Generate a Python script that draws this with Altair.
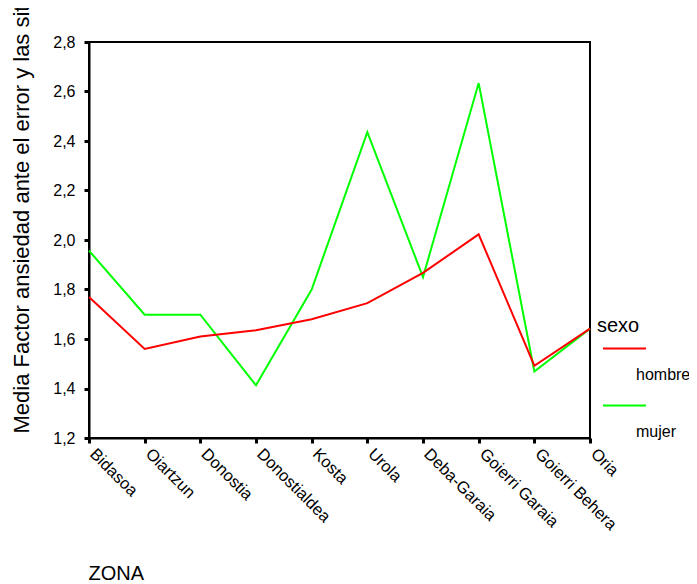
import altair as alt
import pandas as pd

zonas = ["Bidasoa", "Oiartzun", "Donostia", "Donostialdea", "Kosta", "Urola",
         "Deba-Garaia", "Goierri Garaia", "Goierri Behera", "Oria"]
hombre = [1.77, 1.56, 1.61, 1.635, 1.68, 1.745, 1.867, 2.023, 1.492, 1.642]
mujer = [1.957, 1.698, 1.698, 1.413, 1.80, 2.436, 1.85, 2.634, 1.469, 1.642]
sexos = ["hombre", "mujer"]
colores = ["#ff0000", "#00ff00"]
y_ticks = [1.2, 1.4, 1.6, 1.8, 2.0, 2.2, 2.4, 2.6, 2.8]

rows = []
for z, v in zip(zonas, mujer):
    rows.append({"ZONA": z, "sexo": "mujer", "valor": v})
for z, v in zip(zonas, hombre):
    rows.append({"ZONA": z, "sexo": "hombre", "valor": v})
df = pd.DataFrame(rows)

FONT = "Liberation Sans"

chart = alt.Chart(df).mark_line(strokeWidth=2).encode(
    x=alt.X("ZONA:N", sort=zonas,
            scale=alt.Scale(type="point", padding=0),
            axis=alt.Axis(title="ZONA", labelAngle=45, labelAlign="left",
                          labelBaseline="middle", labelPadding=8, labelOffset=3,
                          labelFontSize=16.5,
                          titleFontSize=20, titleFontWeight="normal",
                          titleAlign="left", titleX=-1, titleY=141,
                          titleBaseline="alphabetic")),
    y=alt.Y("valor:Q", scale=alt.Scale(domain=[1.2, 2.8], nice=False, zero=False),
            axis=alt.Axis(title="Media  Factor ansiedad ante el error y las situaciones",
                          values=y_ticks, format=".1f",
                          labelExpr="replace(datum.label, '.', ',')",
                          labelFontSize=16, labelPadding=9,
                          titleFontSize=22, titleFontWeight="normal",
                          titleAngle=270, titleAlign="left",
                          titleBaseline="alphabetic", titleX=-61, titleY=391)),
    color=alt.Color("sexo:N", scale=alt.Scale(domain=sexos, range=colores),
                    legend=alt.Legend(title="sexo", orient="none", legendX=508,
                                      legendY=274, symbolType="stroke",
                                      symbolStrokeWidth=2, symbolSize=1849,
                                      symbolOffset=5, labelOffset={"expr": "-11"},
                                      labelBaseline="top",
                                      labelExpr="['', datum.label]",
                                      labelFontSize=16, titleFontSize=20,
                                      titleFontWeight="normal",
                                      titlePadding={"expr": "-10"},
                                      rowPadding={"expr": "-16"}, padding=0)),
).properties(
    width=501, height=396,
    autosize=alt.AutoSizeParams(type="none"),
    padding={"left": 81, "top": 34, "right": 99, "bottom": 146},
).configure(
    font=FONT,
).configure_view(
    stroke="black", strokeWidth=2,
).configure_axis(
    grid=False, domainColor="black", domainWidth=2, tickColor="black",
    tickWidth=3, tickSize=5, labelColor="black", titleColor="black",
    labelFont=FONT, titleFont=FONT,
).configure_legend(
    labelColor="black", titleColor="black", labelFont=FONT, titleFont=FONT,
)

chart.save("out.html", embed_options={"renderer": "svg", "actions": False})
